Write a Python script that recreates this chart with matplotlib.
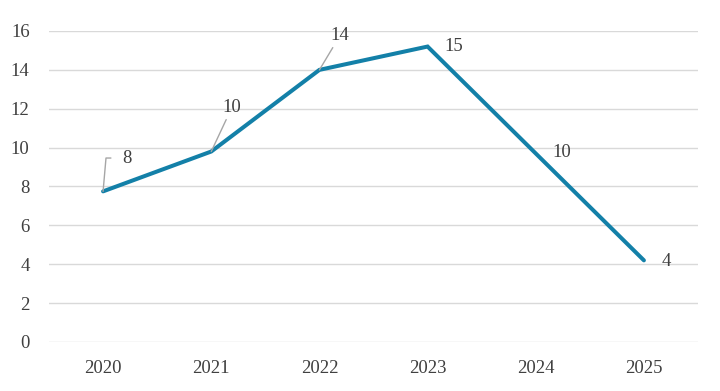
import matplotlib
matplotlib.use("Agg")
import matplotlib.pyplot as plt

years = ["2020", "2021", "2022", "2023", "2024", "2025"]
values = [7.75, 9.8, 14.0, 15.2, 9.7, 4.2]
labels = ["8", "10", "14", "15", "10", "4"]
yticks = [0, 2, 4, 6, 8, 10, 12, 14, 16]

plt.rcParams['font.family'] = ['Liberation Serif', 'DejaVu Serif']

fig = plt.figure(figsize=(7.2, 3.91), dpi=100)
ax = fig.add_axes([49/720, 1 - 342/391, (698-49)/720, (342-31)/391])

x = list(range(len(years)))
ax.plot(x, values, color='#1380A8', lw=2.9, solid_capstyle='round', solid_joinstyle='miter', zorder=3)

ax.set_xlim(-0.5, len(years) - 0.5)
ax.set_ylim(0, 16)
ax.set_yticks(yticks)
ax.set_xticks(x)
ax.set_xticklabels(years)
ax.grid(axis='y', color='#D9D9D9', lw=1)
ax.set_axisbelow(True)
for s in ax.spines.values():
    s.set_visible(False)
ax.tick_params(length=0, labelsize=13.5, colors='#404040')
ax.tick_params(axis='x', pad=13)
ax.tick_params(axis='y', pad=14)

tc = '#404040'
lc = '#A6A6A6'
fs = 13.5
# label offsets in points (dx, dy) and whether a leader line is drawn
offs = [(17, 24), (15, 32), (15, 25), (19, 0), (19, 1), (16, -1)]
leader = [True, True, True, False, False, False]
for i, (v, lab) in enumerate(zip(values, labels)):
    dx, dy = offs[i]
    if leader[i]:
        if i == 0:
            ax.annotate(lab, xy=(x[i], v), xytext=(dx, dy), textcoords='offset points',
                        ha='center', va='center', fontsize=fs, color=tc,
                        arrowprops=dict(arrowstyle='-', color=lc, lw=1,
                                        connectionstyle='angle,angleA=0,angleB=85,rad=0',
                                        shrinkA=6, shrinkB=0))
        else:
            ax.annotate(lab, xy=(x[i], v), xytext=(dx, dy), textcoords='offset points',
                        ha='center', va='center', fontsize=fs, color=tc,
                        arrowprops=dict(arrowstyle='-', color=lc, lw=1, shrinkA=1, shrinkB=0))
    else:
        ax.annotate(lab, xy=(x[i], v), xytext=(dx, dy), textcoords='offset points',
                    ha='center', va='center', fontsize=fs, color=tc)

fig.savefig('out.png', dpi=100)
